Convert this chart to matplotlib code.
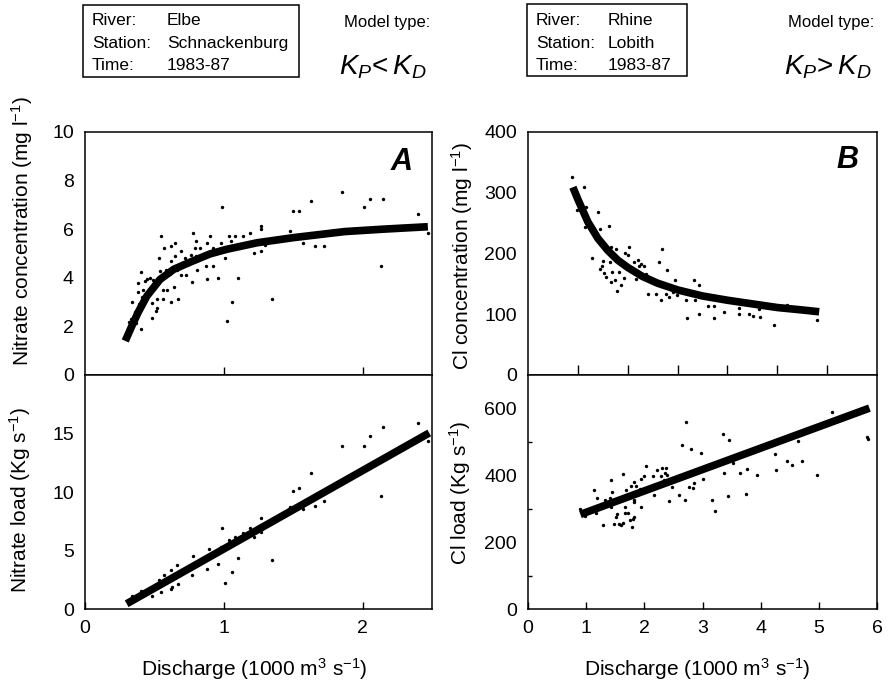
import matplotlib
matplotlib.use("Agg")
import matplotlib.pyplot as plt
from matplotlib.patches import Rectangle

plt.rcParams["font.family"] = ["Liberation Sans", "DejaVu Sans"]
plt.rcParams["mathtext.fontset"] = "custom"
plt.rcParams["mathtext.rm"] = "Liberation Sans"
plt.rcParams["mathtext.it"] = "Liberation Sans:italic"
plt.rcParams["mathtext.bf"] = "Liberation Sans:bold"

# Elbe, Schnackenburg - nitrate concentration vs discharge (1000 m3/s)
elbe_conc_q = [1.85, 1.63, 2.05, 2.15, 2.01, 0.99, 1.50, 1.54, 2.40, 2.47,
               1.27, 1.27, 1.48, 0.55, 0.78, 0.90, 1.04, 1.08, 1.14, 1.19,
               1.57, 1.66, 1.72, 0.65, 0.62, 0.57, 0.69, 0.80, 0.79, 0.83,
               0.88, 0.98, 1.05, 0.92, 1.22, 1.27, 1.30, 0.53, 0.62, 0.65,
               0.72, 0.76, 0.80, 1.01, 2.13, 0.40, 0.81, 0.87, 0.92, 0.45,
               0.47, 0.38, 0.43, 0.49, 0.54, 0.58, 0.61, 0.69, 0.73, 0.77,
               0.88, 0.96, 1.10, 0.51, 0.64, 0.56, 0.59, 0.42, 0.38, 0.52,
               0.56, 0.62, 0.67, 0.34, 0.48, 0.52, 0.51, 0.48, 1.06, 1.35,
               1.02, 0.32, 0.37, 0.40,
               0.31, 0.33, 0.35, 0.36, 0.39, 0.41, 0.44, 0.47, 0.50, 0.55,
               0.60, 0.66, 0.70, 0.85, 0.95, 1.15, 1.30, 1.40]
elbe_conc = [7.53, 7.14, 7.23, 7.23, 6.93, 6.93, 6.74, 6.74, 6.62, 5.83,
             6.13, 6.02, 5.91, 5.72, 5.83, 5.72, 5.72, 5.72, 5.72, 5.83,
             5.41, 5.30, 5.30, 5.44, 5.30, 5.22, 5.11, 5.52, 5.22, 5.22,
             5.44, 5.44, 5.52, 5.22, 5.03, 5.11, 5.33, 4.82, 4.71, 4.90,
             4.81, 4.92, 4.89, 4.82, 4.50, 4.24, 4.31, 4.50, 4.50, 3.95,
             4.01, 3.79, 3.88, 3.90, 4.27, 4.31, 4.17, 4.12, 4.12, 3.81,
             3.93, 4.01, 4.01, 3.65, 3.62, 3.51, 3.51, 3.51, 3.40, 3.13,
             3.13, 3.02, 3.13, 3.02, 2.96, 2.75, 2.64, 2.33, 3.02, 3.13,
             2.22, 2.19, 2.14, 1.89,
             1.70, 2.30, 2.20, 2.60, 2.90, 3.20, 3.20, 3.50, 3.70, 3.90,
             4.20, 4.30, 4.60, 4.90, 5.00, 5.35, 5.50, 5.60]
elbe_fit_q = [0.29, 0.34, 0.385, 0.445, 0.54, 0.64, 0.76, 0.90, 1.02, 1.24,
              1.50, 1.87, 2.15, 2.47]
elbe_fit_conc = [1.40, 2.05, 2.60, 3.24, 3.93, 4.35, 4.65, 4.98, 5.17, 5.44,
                 5.65, 5.90, 6.00, 6.10]

# Elbe - nitrate load (kg/s)
elbe_load_q = [2.40, 2.15, 2.05, 2.47, 1.85, 2.01, 1.63, 1.50, 1.54, 2.13,
               1.57, 1.66, 1.72, 1.48, 1.27, 1.27, 0.99, 1.19, 1.22, 1.14,
               1.08, 1.04, 1.35, 1.10, 1.06, 1.01, 0.98, 0.96, 0.89, 0.88,
               0.78, 0.77, 0.81, 0.66, 0.62, 0.57, 0.67, 0.63, 0.62, 0.53,
               0.55, 0.48, 0.42, 0.40, 0.34, 0.31,
               0.33, 0.36, 0.38, 0.41, 0.44, 0.46, 0.50, 0.52, 0.58, 0.60,
               0.65, 0.70, 0.72, 0.75, 0.80, 0.85, 0.92, 1.00, 1.05, 1.12,
               1.25, 1.28, 1.50]
elbe_load = [15.92, 15.52, 14.80, 14.37, 13.94, 13.94, 11.64, 10.11, 10.34, 9.63,
             8.53, 8.82, 9.20, 8.68, 7.76, 6.61, 6.90, 6.90, 6.15, 6.47,
             6.15, 5.89, 4.17, 4.37, 3.16, 2.24, 5.32, 3.82, 5.17, 3.39,
             4.54, 2.93, 3.73, 3.73, 3.30, 2.93, 2.10, 1.87, 1.72, 2.44,
             1.44, 1.15, 1.44, 1.58, 1.15, 0.72,
             0.70, 0.90, 1.10, 1.20, 1.40, 1.60, 1.80, 2.00, 2.30, 2.60,
             2.80, 3.10, 3.40, 3.60, 3.80, 4.30, 4.60, 5.20, 5.50, 5.90,
             6.90, 7.00, 8.60]
elbe_line_q = [0.30, 2.48]
elbe_line_load = [0.45, 15.05]

# Rhine, Lobith - Cl concentration (mg/l)
rhine_conc_q = [0.89, 1.12, 0.99, 1.17, 1.41, 1.14, 1.44, 1.63, 1.31, 1.28,
                1.66, 1.76, 2.02, 1.94, 2.01, 1.51, 1.65, 1.49, 1.44, 1.53,
                1.69, 1.56, 1.66, 1.74, 1.79, 1.87, 1.83, 1.92, 2.12, 2.21,
                2.27, 2.32, 2.36, 2.16, 2.23, 2.62, 2.69, 2.79, 2.41, 2.57,
                2.67, 2.76, 2.83, 2.95, 2.99, 2.91, 3.16, 3.19, 3.33, 3.43,
                3.34, 3.43, 3.61, 3.74, 3.74, 3.93, 4.23, 4.23, 4.43, 4.51,
                4.66, 4.63, 4.94, 5.19, 5.79,
                0.95, 1.05, 1.20, 1.35, 1.50, 1.70, 1.90, 2.10, 2.40, 2.60,
                2.80, 3.10, 3.50, 4.00, 4.60, 5.20]
rhine_conc = [326, 309, 272, 276, 269, 243, 240, 245, 244, 193,
              211, 207, 211, 201, 197, 187, 186, 180, 175, 168,
              170, 161, 153, 156, 138, 148, 170, 160, 186, 189,
              183, 179, 167, 158, 180, 186, 208, 172, 134, 134,
              123, 134, 128, 157, 131, 137, 123, 93, 157, 148,
              123, 100, 114, 114, 93, 103, 110, 100, 101, 97,
              96, 109, 82, 115, 90,
              300, 280, 255, 230, 215, 195, 180, 170, 160, 150,
              145, 138, 128, 122, 113, 108]
rhine_fit_q = [0.90, 1.00, 1.20, 1.40, 1.60, 1.80, 2.00, 2.30, 2.60, 3.00,
               3.50, 4.00, 4.50, 5.00, 5.50, 5.84]
rhine_fit_conc = [309, 289, 252, 225, 205, 189, 177, 162, 151, 140,
                  130, 123, 117, 111, 107, 104]

# Rhine - Cl load (kg/s)
rhine_load_q = [2.71, 5.22, 5.83, 5.85, 3.35, 3.45, 2.64, 2.81, 2.97, 4.65,
                4.25, 4.46, 4.53, 4.71, 4.96, 4.27, 3.94, 3.76, 3.64, 3.75,
                3.44, 3.37, 3.52, 3.21, 3.17, 3.00, 2.85, 2.84, 2.76, 2.70,
                2.59, 2.42, 2.48, 2.33, 2.39, 2.38, 2.31, 2.22, 2.35, 2.28,
                2.16, 2.14, 2.03, 1.99, 1.95, 1.93, 1.86, 1.83, 1.77, 1.95,
                1.82, 1.83, 1.81, 1.76, 1.83, 1.79, 1.66, 1.67, 1.72, 1.53,
                1.52, 1.47, 1.56, 1.59, 1.63, 1.29, 1.63, 1.69, 1.43, 1.44,
                1.33, 1.13, 1.18, 1.41, 0.90, 0.98, 1.16, 1.43,
                0.95, 1.05, 1.20, 1.40, 1.60, 1.90, 2.10, 2.30, 2.50, 2.80,
                3.05, 3.20, 3.50, 3.60, 3.10]
rhine_load = [561, 588, 516, 510, 524, 506, 491, 479, 466, 504,
              463, 444, 432, 444, 400, 415, 402, 419, 408, 344,
              337, 408, 438, 293, 327, 388, 377, 363, 366, 327,
              342, 322, 366, 386, 401, 421, 421, 417, 408, 398,
              340, 398, 428, 398, 388, 359, 367, 381, 367, 305,
              320, 325, 270, 267, 275, 245, 305, 287, 287, 285,
              275, 253, 255, 251, 258, 250, 403, 355, 386, 350,
              327, 355, 332, 332, 298, 277, 287, 305,
              285, 290, 300, 312, 325, 345, 360, 372, 385, 405,
              420, 430, 448, 455, 430]
rhine_line_q = [0.90, 5.87]
rhine_line_load = [283, 601]

discharge_label = "Discharge (1000 m$^{3}$ s$^{-1}$)"

fig = plt.figure(figsize=(8.93, 6.84), dpi=100)
axA1 = fig.add_axes([0.0952, 0.4518, 0.3886, 0.3553])
axA2 = fig.add_axes([0.0952, 0.1096, 0.3886, 0.3421])
axB1 = fig.add_axes([0.5913, 0.4518, 0.3908, 0.3553])
axB2 = fig.add_axes([0.5913, 0.1096, 0.3908, 0.3421])

for ax in [axA1, axA2, axB1, axB2]:
    for s in ax.spines.values():
        s.set_linewidth(1.1)
    ax.tick_params(labelsize=14, direction="in", width=1, pad=8)
    ax.tick_params(axis="y", length=0)
    ax.tick_params(axis="x", length=5)

# A: nitrate concentration
axA1.scatter(elbe_conc_q, elbe_conc, s=6, color="black", linewidths=0)
axA1.plot(elbe_fit_q, elbe_fit_conc, color="black", lw=5.5, solid_capstyle="butt")
axA1.set_xlim(0, 2.5)
axA1.set_ylim(0, 10)
axA1.set_xticks([1, 2])
axA1.tick_params(axis="x", labelbottom=False, length=6)
axA1.set_yticks([0, 2, 4, 6, 8, 10])
axA1.set_ylabel("Nitrate concentration (mg l$^{-1}$)", fontsize=15)
axA1.yaxis.set_label_coords(-0.143, 0.59)
axA1.text(0.945, 0.875, "A", transform=axA1.transAxes, fontsize=22,
          fontweight="bold", style="italic", ha="right", va="center")

# A: nitrate load
axA2.scatter(elbe_load_q, elbe_load, s=6, color="black", linewidths=0)
axA2.plot(elbe_line_q, elbe_line_load, color="black", lw=5.5, solid_capstyle="butt")
axA2.set_xlim(0, 2.5)
axA2.set_ylim(0, 20)
axA2.set_xticks([0, 1, 2])
axA2.set_yticks([0, 5, 10, 15])
axA2.set_ylabel("Nitrate load (Kg s$^{-1}$)", fontsize=15)
axA2.yaxis.set_label_coords(-0.150, 0.466)
axA2.set_xlabel(discharge_label, fontsize=15)
axA2.xaxis.set_label_coords(0.487, -0.200)

# B: Cl concentration
axB1.scatter(rhine_conc_q, rhine_conc, s=6, color="black", linewidths=0)
axB1.plot(rhine_fit_q, rhine_fit_conc, color="black", lw=5.5, solid_capstyle="butt")
axB1.set_xlim(0, 7)
axB1.set_ylim(0, 400)
axB1.set_xticks([1, 2, 3, 4, 5, 6])
axB1.tick_params(axis="x", labelbottom=False, length=7)
axB1.set_yticks([0, 100, 200, 300, 400])
axB1.set_ylabel("Cl concentration (mg l$^{-1}$)", fontsize=15)
axB1.yaxis.set_label_coords(-0.152, 0.49)
axB1.text(0.946, 0.885, "B", transform=axB1.transAxes, fontsize=22,
          fontweight="bold", style="italic", ha="right", va="center")

# B: Cl load
axB2.scatter(rhine_load_q, rhine_load, s=6, color="black", linewidths=0)
axB2.plot(rhine_line_q, rhine_line_load, color="black", lw=5.5, solid_capstyle="butt")
axB2.set_xlim(0, 6)
axB2.set_ylim(0, 700)
axB2.set_xticks([0, 1, 2, 3, 4, 5, 6])
axB2.set_yticks([0, 200, 400, 600])
axB2.set_yticks([100, 300, 500], minor=True)
axB2.tick_params(axis="y", which="minor", direction="in", length=3, width=1)
axB2.set_ylabel("Cl load (Kg s$^{-1}$)", fontsize=15)
axB2.yaxis.set_label_coords(-0.158, 0.496)
axB2.set_xlabel(discharge_label, fontsize=15)
axB2.xaxis.set_label_coords(0.484, -0.200)

# header boxes
fig.patches.append(Rectangle((0.0929, 0.8874), 0.2419, 0.1053, transform=fig.transFigure,
                             fill=False, edgecolor="black", linewidth=1.1))
fig.patches.append(Rectangle((0.5902, 0.8889), 0.1792, 0.1053, transform=fig.transFigure,
                             fill=False, edgecolor="black", linewidth=1.1))

rows_y = [0.9700, 0.9360, 0.9040]
for y, lab, val in zip(rows_y, ["River:", "Station:", "Time:"], ["Elbe", "Schnackenburg", "1983-87"]):
    fig.text(0.1030, y, lab, fontsize=12.5, ha="left", va="center")
    fig.text(0.1870, y, val, fontsize=12.5, ha="left", va="center")
for y, lab, val in zip(rows_y, ["River:", "Station:", "Time:"], ["Rhine", "Lobith", "1983-87"]):
    fig.text(0.6002, y, lab, fontsize=12.5, ha="left", va="center")
    fig.text(0.6809, y, val, fontsize=12.5, ha="left", va="center")

fig.text(0.4334, 0.9678, "Model type:", fontsize=12, ha="center", va="center")
fig.text(0.9306, 0.9678, "Model type:", fontsize=12, ha="center", va="center")
fig.text(0.4289, 0.902, r"$K_P\!<K_D$", fontsize=20, ha="center", va="center")
fig.text(0.9272, 0.902, r"$K_P\!>K_D$", fontsize=20, ha="center", va="center")

fig.savefig("out.png", dpi=100)
